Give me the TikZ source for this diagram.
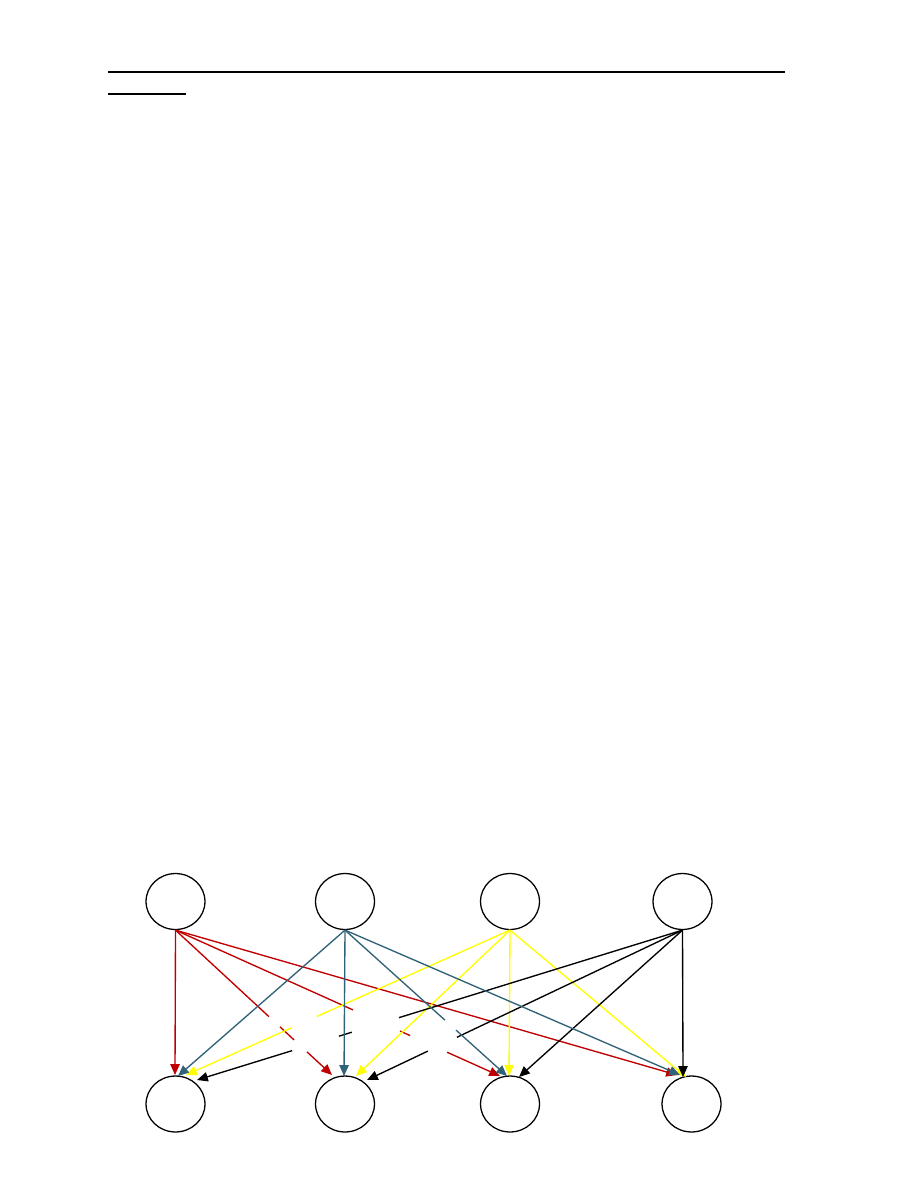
\documentclass[tikz,border=0pt]{standalone}
\usetikzlibrary{shapes.geometric,arrows.meta,calc}
\definecolor{lred}{HTML}{C00000}
\definecolor{lteal}{HTML}{316378}
\definecolor{lyellow}{HTML}{FFFF00}
\tikzset{
  vert/.style={ellipse, draw=black, line width=0.85pt, minimum width=39.3pt, minimum height=37.3pt, inner sep=0pt},
  edge/.style={line width=0.9pt},
  tip/.style={edge, -{Triangle[length=7.2pt,width=6.2pt]}},
  rule/.style={line width=1.4pt, black}
}
\begin{document}
\begin{tikzpicture}[x=0.6667pt,y=-0.6667pt]
\useasboundingbox (0,0) rectangle (918,1188);
% header rules
\coordinate (h1a) at (108,72); \coordinate (h1b) at (785,72);
\coordinate (h2a) at (108,94); \coordinate (h2b) at (186,94);
\draw[rule] (h1a) -- (h1b);
\draw[rule] (h2a) -- (h2b);
% nodes
\node[vert] (A1) at (175.5,901.5) {};
\node[vert] (A2) at (345,901.5) {};
\node[vert] (A3) at (510,901.5) {};
\node[vert] (A4) at (682.5,901.5) {};
\node[vert] (B1) at (175.5,1104) {};
\node[vert] (B2) at (345,1104) {};
\node[vert] (B3) at (510,1104) {};
\node[vert] (B4) at (691.5,1104) {};
% arrow ends
\coordinate (r1) at (175,1075); \coordinate (t1) at (178,1076); \coordinate (y1) at (186,1075); \coordinate (k1) at (197,1080);
\coordinate (r2) at (332,1075); \coordinate (t2) at (344,1076); \coordinate (y2) at (356,1076); \coordinate (k2) at (367,1080);
\coordinate (r3) at (500,1076); \coordinate (t3) at (507,1076); \coordinate (y3) at (509,1076); \coordinate (k3) at (519,1077);
\coordinate (r4) at (677,1075); \coordinate (t4) at (680,1075); \coordinate (y4) at (686,1077); \coordinate (k4) at (683,1077);
% red from A1
\draw[tip,lred] (A1.south) -- (r1);
\draw[edge,lred] (A1.south) -- ($(A1.south)!0.597!(r2)$);
\draw[edge,lred] ($(A1.south)!0.668!(r2)$) -- ($(A1.south)!0.757!(r2)$);
\draw[tip,lred] ($(A1.south)!0.840!(r2)$) -- (r2);
\draw[edge,lred] (A1.south) -- ($(A1.south)!0.547!(r3)$);
\draw[edge,lred] ($(A1.south)!0.692!(r3)$) -- ($(A1.south)!0.723!(r3)$);
\draw[tip,lred] ($(A1.south)!0.837!(r3)$) -- (r3);
\draw[tip,lred] (A1.south) -- (r4);
% yellow from A3
\draw[edge,lyellow] (A3.south) -- ($(A3.south)!0.596!(y1)$);
\draw[tip,lyellow] ($(A3.south)!0.673!(y1)$) -- (y1);
\draw[tip,lyellow] (A3.south) -- (y2);
\draw[tip,lyellow] (A3.south) -- (y3);
\draw[tip,lyellow] (A3.south) -- (y4);
% black from A4
\draw[edge,black] (A4.south) -- ($(A4.south)!0.584!(k1)$);
\draw[edge,black] ($(A4.south)!0.681!(k1)$) -- ($(A4.south)!0.7075!(k1)$);
\draw[tip,black] ($(A4.south)!0.804!(k1)$) -- (k1);
\draw[edge,black] (A4.south) -- ($(A4.south)!0.715!(k2)$);
\draw[tip,black] ($(A4.south)!0.807!(k2)$) -- (k2);
\draw[tip,black] (A4.south) -- (k3);
\draw[tip,black] (A4.south) -- (k4);
% teal from A2
\draw[tip,lteal] (A2.south) -- (t1);
\draw[tip,lteal] (A2.south) -- (t2);
\draw[edge,lteal] (A2.south) -- ($(A2.south)!0.617!(t3)$);
\draw[tip,lteal] ($(A2.south)!0.685!(t3)$) -- (t3);
\draw[tip,lteal] (A2.south) -- (t4);
\end{tikzpicture}
\end{document}
